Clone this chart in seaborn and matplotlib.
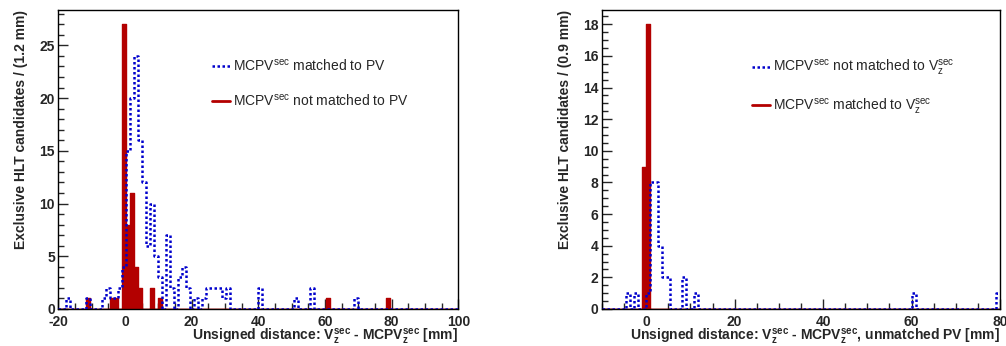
import numpy as np
import pandas as pd
import matplotlib
matplotlib.use("Agg")
import matplotlib.pyplot as plt
import seaborn as sns
from matplotlib.lines import Line2D
from matplotlib.ticker import MultipleLocator

# ---------------- data (bin centres in mm, entries per bin) ----------------
# left panel: bin width 1.2 mm, range -20 .. 100
left_edges_range = (-20, 100)
left_nbins = 100
left_red_x = [-11.0, -3.8, -2.6, -0.2, 1.0, 2.2, 3.4, 4.6, 8.2, 10.6, 61.0, 79.0]
left_red_n = [1, 1, 1, 27, 8, 11, 4, 2, 2, 1, 1, 1]
left_blue_x = [-17.0, -11.0, -6.2, -5.0, -3.8, -2.6, -1.4, -0.2, 1.0, 2.2, 3.4, 4.6,
               5.8, 7.0, 8.2, 9.4, 10.6, 13.0, 14.2, 16.6, 17.8, 19.0, 21.4, 23.8,
               25.0, 26.2, 27.4, 28.6, 29.8, 31.0, 40.6, 51.4, 56.2, 69.4]
left_blue_n = [1, 1, 1, 2, 1, 1, 2, 4, 15, 20, 24, 16,
               12, 6, 10, 5, 3, 7, 2, 3, 4, 2, 1, 1,
               2, 2, 2, 2, 1, 2, 2, 1, 2, 1]

# right panel: bin width 0.9 mm, range -10 .. 80
right_edges_range = (-10, 80)
right_nbins = 100
right_red_x = [-0.55, 0.35]
right_red_n = [9, 18]
right_blue_x = [-4.15, -2.35, 0.35, 1.25, 2.15, 3.05, 3.95, 4.85, 8.45, 11.15, 60.65, 79.55]
right_blue_n = [1, 1, 1, 8, 8, 4, 2, 2, 2, 1, 1, 1]

left_labels = [r"MCPV$^{\mathrm{sec}}$ matched to PV",
               r"MCPV$^{\mathrm{sec}}$ not matched to PV"]
right_labels = [r"MCPV$^{\mathrm{sec}}$ not matched to V$_{\mathrm{z}}^{\mathrm{sec}}$",
                r"MCPV$^{\mathrm{sec}}$ matched to V$_{\mathrm{z}}^{\mathrm{sec}}$"]
left_xlabel = r"Unsigned distance: V$_{\mathbf{z}}^{\mathbf{sec}}$ - MCPV$_{\mathbf{z}}^{\mathbf{sec}}$ [mm]"
right_xlabel = r"Unsigned distance: V$_{\mathbf{z}}^{\mathbf{sec}}$ - MCPV$_{\mathbf{z}}^{\mathbf{sec}}$, unmatched PV [mm]"
left_ylabel = "Exclusive HLT candidates / (1.2 mm)"
right_ylabel = "Exclusive HLT candidates / (0.9 mm)"

RED = "#b30000"
BLUE = "#0000cc"

# ---------------- style ----------------
sns.set_style("ticks")
plt.rcParams["font.family"] = ["Liberation Sans", "DejaVu Sans"]
plt.rcParams["mathtext.fontset"] = "custom"
plt.rcParams["mathtext.rm"] = "Liberation Sans"
plt.rcParams["mathtext.it"] = "Liberation Sans:italic"
plt.rcParams["mathtext.bf"] = "Liberation Sans:bold"
plt.rcParams["axes.edgecolor"] = "black"
plt.rcParams["axes.linewidth"] = 1.0
plt.rcParams["axes.unicode_minus"] = False

W, H = 1006, 346
fig = plt.figure(figsize=(W / 100, H / 100), dpi=100)

def ax_rect(x0, x1, y0, y1):
    return [x0 / W, 1 - y1 / H, (x1 - x0) / W, (y1 - y0) / H]

axL = fig.add_axes(ax_rect(58.3, 458.3, 10, 309))
axR = fig.add_axes(ax_rect(602, 1000, 10, 309))

def draw(ax, rng, nb, rx, rn, bx, bn):
    dr = pd.DataFrame({"x": np.asarray(rx, float), "n": np.asarray(rn, float)})
    db = pd.DataFrame({"x": np.asarray(bx, float), "n": np.asarray(bn, float)})
    sns.histplot(data=dr, x="x", weights="n", bins=nb, binrange=rng, element="step",
                 fill=True, color=RED, alpha=1.0, edgecolor=RED, linewidth=1.0,
                 ax=ax, zorder=2)
    sns.histplot(data=db, x="x", weights="n", bins=nb, binrange=rng, element="step",
                 fill=False, color=BLUE, linewidth=1.8, linestyle=(0, (1, 1)),
                 ax=ax, zorder=3)
    ax.set_xlim(rng)

draw(axL, left_edges_range, left_nbins, left_red_x, left_red_n, left_blue_x, left_blue_n)
draw(axR, right_edges_range, right_nbins, right_red_x, right_red_n, right_blue_x, right_blue_n)

axL.set_ylim(0, 27 * 1.05)
axR.set_ylim(0, 18 * 1.05)

axL.xaxis.set_major_locator(MultipleLocator(20))
axL.xaxis.set_minor_locator(MultipleLocator(5))
axL.yaxis.set_major_locator(MultipleLocator(5))
axL.yaxis.set_minor_locator(MultipleLocator(1))
axR.xaxis.set_major_locator(MultipleLocator(20))
axR.xaxis.set_minor_locator(MultipleLocator(5))
axR.yaxis.set_major_locator(MultipleLocator(2))
axR.yaxis.set_minor_locator(MultipleLocator(0.5))

for ax, xl, yl, labs, lx in [(axL, left_xlabel, left_ylabel, left_labels, 0.385),
                             (axR, right_xlabel, right_ylabel, right_labels, 0.377)]:
    ax.tick_params(axis="both", which="major", direction="in", length=7.5, width=1,
                   labelsize=10)
    ax.tick_params(axis="x", which="major", pad=4)
    ax.tick_params(axis="y", which="major", pad=2.5)
    ax.tick_params(axis="both", which="minor", direction="in", length=4, width=1)
    for t in ax.get_xticklabels() + ax.get_yticklabels():
        t.set_fontweight("bold")
    for s in ax.spines.values():
        s.set_visible(True)
        s.set_color("black")
    ax.set_xlabel(xl, loc="right", fontsize=10, fontweight="bold", labelpad=-1)
    ax.set_ylabel(yl, loc="top", fontsize=10, fontweight="bold", labelpad=8)
    handles = [Line2D([], [], color=BLUE, lw=1.8, linestyle=(0, (1, 1))),
               Line2D([], [], color=RED, lw=2.0)]
    ax.legend(handles, labs, loc="upper left", bbox_to_anchor=(lx, 0.84),
              frameon=False, fontsize=10, handlelength=1.3, handletextpad=0.2,
              labelspacing=1.35, borderpad=0, borderaxespad=0)

fig.savefig("out.png", dpi=100)
